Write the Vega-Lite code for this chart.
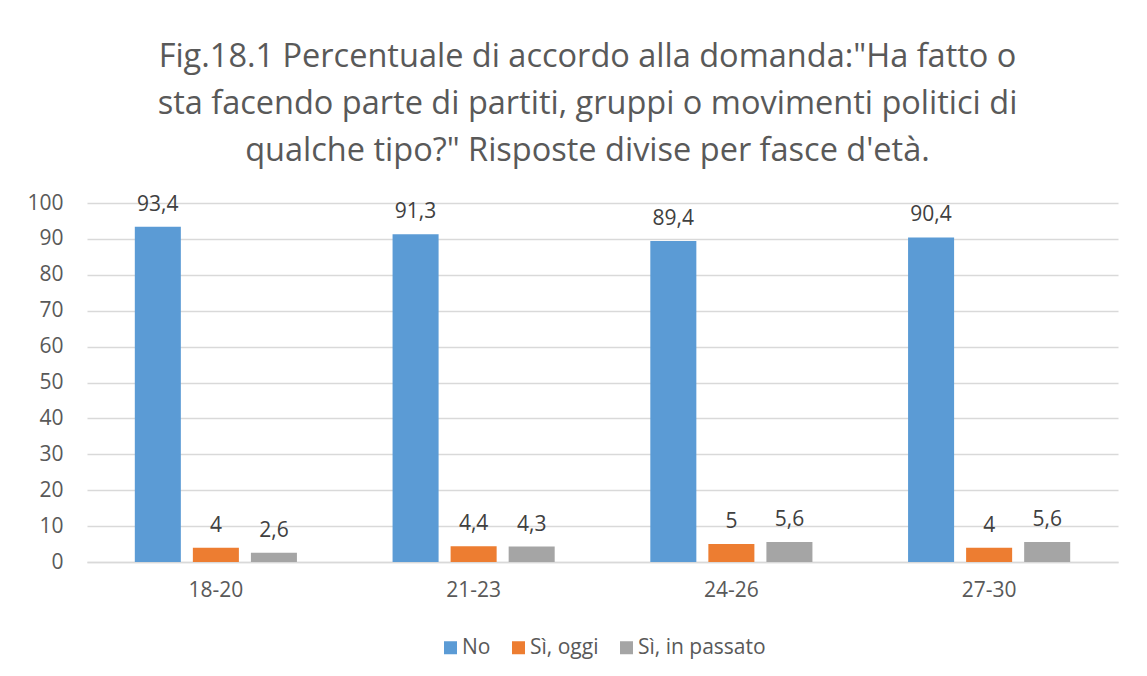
{
  "$schema": "https://vega.github.io/schema/vega-lite/v6.json",
  "autosize": "none",
  "width": 1031,
  "height": 359,
  "padding": {"left": 87, "top": 203, "right": 29, "bottom": 114},
  "background": "white",
  "config": {
    "font": "Open Sans",
    "view": {"stroke": null},
    "legend": {"layout": {"bottom": {"anchor": "middle"}}},
    "locale": {"number": {"decimal": ",", "thousands": ".", "grouping": [3], "currency": ["€", ""]}}
  },
  "title": {
    "text": ["Fig.18.1 Percentuale di accordo alla domanda:\"Ha fatto o", "sta facendo parte di partiti, gruppi o movimenti politici di", "qualche tipo?\" Risposte divise per fasce d'età."],
    "fontSize": 32.5,
    "fontWeight": "normal",
    "color": "#595959",
    "lineHeight": 47,
    "anchor": "middle",
    "frame": "group",
    "dx": -15,
    "offset": 25
  },
  "data": {
    "values": [
      {"eta": "18-20", "risposta": "No", "valore": 93.4},
      {"eta": "18-20", "risposta": "Sì, oggi", "valore": 4},
      {"eta": "18-20", "risposta": "Sì, in passato", "valore": 2.6},
      {"eta": "21-23", "risposta": "No", "valore": 91.3},
      {"eta": "21-23", "risposta": "Sì, oggi", "valore": 4.4},
      {"eta": "21-23", "risposta": "Sì, in passato", "valore": 4.3},
      {"eta": "24-26", "risposta": "No", "valore": 89.4},
      {"eta": "24-26", "risposta": "Sì, oggi", "valore": 5},
      {"eta": "24-26", "risposta": "Sì, in passato", "valore": 5.6},
      {"eta": "27-30", "risposta": "No", "valore": 90.4},
      {"eta": "27-30", "risposta": "Sì, oggi", "valore": 4},
      {"eta": "27-30", "risposta": "Sì, in passato", "valore": 5.6}
    ]
  },
  "encoding": {
    "x": {
      "field": "eta", "type": "nominal", "sort": null,
      "scale": {"paddingInner": 0.371, "paddingOuter": 0.1855},
      "axis": {"title": null, "labelAngle": 0, "ticks": false, "domain": true, "domainColor": "#d9d9d9", "domainWidth": 1.3, "labelFontSize": 21, "labelColor": "#595959", "labelPadding": 17}
    },
    "xOffset": {
      "field": "risposta", "type": "nominal", "sort": ["No", "Sì, oggi", "Sì, in passato"],
      "scale": {"paddingInner": 0.207, "paddingOuter": 0}
    },
    "y": {
      "field": "valore", "type": "quantitative",
      "scale": {"domain": [0, 100], "nice": false},
      "axis": {"title": null, "values": [0, 10, 20, 30, 40, 50, 60, 70, 80, 90, 100], "ticks": false, "domain": false, "gridColor": "#d9d9d9", "gridWidth": 1.3, "labelFontSize": 21, "labelColor": "#595959", "labelPadding": 24}
    },
    "color": {
      "field": "risposta", "type": "nominal", "sort": ["No", "Sì, oggi", "Sì, in passato"],
      "scale": {"domain": ["No", "Sì, oggi", "Sì, in passato"], "range": ["#5B9BD5", "#ED7D31", "#A5A5A5"]},
      "legend": {"title": null, "orient": "bottom", "direction": "horizontal", "symbolType": "square", "symbolSize": 169, "symbolStrokeWidth": 0, "labelFontSize": 21, "labelColor": "#595959", "columnPadding": 17, "labelOffset": 1, "offset": 37}
    }
  },
  "layer": [
    {"mark": {"type": "bar"}},
    {
      "mark": {"type": "text", "baseline": "bottom", "dy": -12, "fontSize": 21, "color": "#404040"},
      "encoding": {"text": {"field": "valore", "type": "quantitative", "format": ".1~f"}, "color": {"value": "#404040"}}
    }
  ]
}
